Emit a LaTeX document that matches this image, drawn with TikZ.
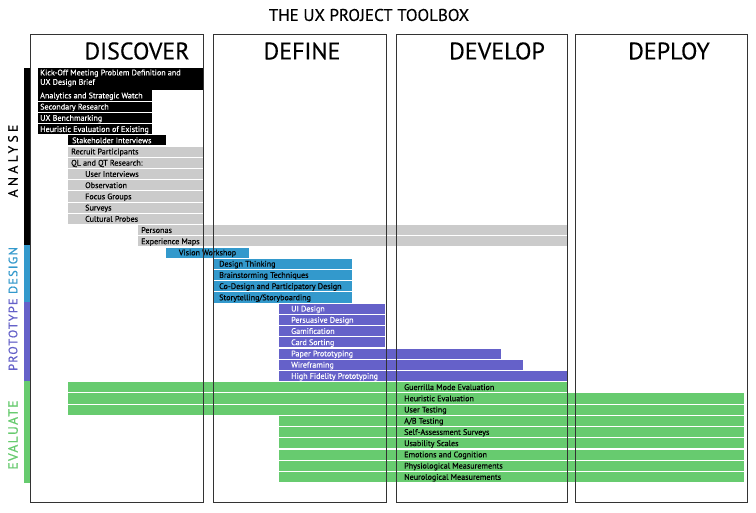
\documentclass[tikz,border=0pt]{standalone}
\usepackage{fontspec}
\setmainfont{PT Sans}
\newfontfamily\labfont[LetterSpace=10,FakeBold=0.6]{PT Sans}
\newfontfamily\labwidefont[LetterSpace=25,FakeBold=0.6]{PT Sans}
\newfontfamily\barfont[FakeBold=0.35]{PT Sans}
\newfontfamily\headfont[FakeBold=0.3]{PT Sans}
\definecolor{uxgray}{HTML}{CBCBCB}
\definecolor{uxblue}{HTML}{3399CC}
\definecolor{uxpurple}{HTML}{6561C9}
\definecolor{uxgreen}{HTML}{67CB6F}
\definecolor{uxline}{HTML}{333333}
\tikzset{
  bartext/.style={font=\barfont\fontsize{8.1}{9.4}\selectfont, inner sep=0pt},
  colbox/.style={draw=uxline, line width=1pt},
  header/.style={font=\headfont\fontsize{24}{24}\selectfont, inner sep=0pt},
  sidelabel/.style={rotate=90, font=\labfont\fontsize{13.5}{13.5}\selectfont, inner sep=0pt}
}
% #1 row, #2 x1, #3 x2, #4 fill colour, #5 text colour, #6 text x, #7 name, #8 text
\newcommand\uxrow[8]{%
  \pgfmathsetmacro\uxy{90+11.22*#1}%
  \fill[#4] (#2,\uxy+0.5) rectangle (#3,\uxy+10.6);
  \node[bartext,text=#5,anchor=base west] (#7) at (#6,\uxy+8.3) {#8};
}
\begin{document}
\begin{tikzpicture}[x=1pt,y=-1pt]
\useasboundingbox[fill=white] (0,0) rectangle (756,513);

% title
\node[font=\headfont\fontsize{17}{17}\selectfont, inner sep=0pt] (title) at (369,15) {THE UX PROJECT TOOLBOX};

% left strip
\fill[black] (24,68) rectangle (30,245);
\fill[uxblue] (24,245) rectangle (30,302);
\fill[uxpurple] (24,302) rectangle (30,381);
\fill[uxgreen] (24,381) rectangle (30,483);

\node[sidelabel, font=\labwidefont\fontsize{13.5}{13.5}\selectfont, text=black] (lanalyse) at (13,161) {ANALYSE};
\node[sidelabel, font=\labfont\fontsize{12.3}{12.3}\selectfont] (lproto) at (13,309) {\textcolor{uxpurple}{PROTOTYPE} \textcolor{uxblue}{DESIGN}};
\node[sidelabel, text=uxgreen] (leval) at (13,435) {EVALUATE};

% black bars
\fill[black] (38,67.6) rectangle (203,89.6);
\node[bartext, text=white, anchor=north west, align=left] (kick) at (40,69.4) {Kick-Off Meeting Problem Definition and\\UX Design Brief};
\uxrow{0}{38}{152}{black}{white}{40}{analytics}{Analytics and Strategic Watch}
\uxrow{1}{38}{152}{black}{white}{40}{secondary}{Secondary Research}
\uxrow{2}{38}{152}{black}{white}{40}{bench}{UX Benchmarking}
\uxrow{3}{38}{152}{black}{white}{40}{heurexist}{Heuristic Evaluation of Existing}
\uxrow{4}{68}{166}{black}{white}{72}{stake}{Stakeholder Interviews}

% gray bars
\uxrow{5}{68}{203}{uxgray}{black}{71}{recruit}{Recruit Participants}
\uxrow{6}{68}{203}{uxgray}{black}{71}{qlqt}{QL and QT Research:}
\uxrow{7}{68}{203}{uxgray}{black}{85}{userint}{User Interviews}
\uxrow{8}{68}{203}{uxgray}{black}{85}{observ}{Observation}
\uxrow{9}{68}{203}{uxgray}{black}{85}{focus}{Focus Groups}
\uxrow{10}{68}{203}{uxgray}{black}{85}{surveys}{Surveys}
\uxrow{11}{68}{203}{uxgray}{black}{85}{cultural}{Cultural Probes}
\uxrow{12}{138}{568}{uxgray}{black}{141}{personas}{Personas}
\uxrow{13}{138}{568}{uxgray}{black}{141}{expmaps}{Experience Maps}

% blue bars
\pgfmathsetmacro\uxv{90+11.22*14}
\fill[uxblue] (166,\uxv+0.5) rectangle (249,\uxv+10.6);
\node[bartext, anchor=base] (vision) at (207.5,\uxv+8.3) {Vision Workshop};
\uxrow{15}{213}{352}{uxblue}{black}{219}{dthink}{Design Thinking}
\uxrow{16}{213}{352}{uxblue}{black}{219}{brain}{Brainstorming Techniques}
\uxrow{17}{213}{352}{uxblue}{black}{219}{codesign}{Co-Design and Participatory Design}
\uxrow{18}{213}{352}{uxblue}{black}{219}{story}{Storytelling/Storyboarding}

% purple bars
\uxrow{19}{279}{385}{uxpurple}{white}{291}{uidesign}{UI Design}
\uxrow{20}{279}{385}{uxpurple}{white}{291}{persuasive}{Persuasive Design}
\uxrow{21}{279}{385}{uxpurple}{white}{291}{gamif}{Gamification}
\uxrow{22}{279}{385}{uxpurple}{white}{291}{cardsort}{Card Sorting}
\uxrow{23}{279}{501}{uxpurple}{white}{291}{paper}{Paper Prototyping}
\uxrow{24}{279}{523}{uxpurple}{white}{291}{wire}{Wireframing}
\uxrow{25}{279}{568}{uxpurple}{white}{291}{hifi}{High Fidelity Prototyping}

% green bars
\uxrow{26}{68}{568}{uxgreen}{black}{404}{guerrilla}{Guerrilla Mode Evaluation}
\uxrow{27}{68}{744}{uxgreen}{black}{404}{heureval}{Heuristic Evaluation}
\uxrow{28}{68}{744}{uxgreen}{black}{404}{usertest}{User Testing}
\uxrow{29}{279}{744}{uxgreen}{black}{404}{abtest}{A/B Testing}
\uxrow{30}{279}{744}{uxgreen}{black}{404}{selfassess}{Self-Assessment Surveys}
\uxrow{31}{279}{744}{uxgreen}{black}{404}{usability}{Usability Scales}
\uxrow{32}{279}{744}{uxgreen}{black}{404}{emotions}{Emotions and Cognition}
\uxrow{33}{279}{744}{uxgreen}{black}{404}{physio}{Physiological Measurements}
\uxrow{34}{279}{744}{uxgreen}{black}{404}{neuro}{Neurological Measurements}

% phase columns
\draw[colbox] (30,35) rectangle (203,502);
\draw[colbox] (213,35) rectangle (386,502);
\draw[colbox] (396,35) rectangle (567,502);
\draw[colbox] (575,35) rectangle (747,502);

\node[header] (discover) at (137,51) {DISCOVER};
\node[header] (define) at (302,51) {DEFINE};
\node[header] (develop) at (497,51) {DEVELOP};
\node[header] (deploy) at (669,51) {DEPLOY};
\end{tikzpicture}
\end{document}
